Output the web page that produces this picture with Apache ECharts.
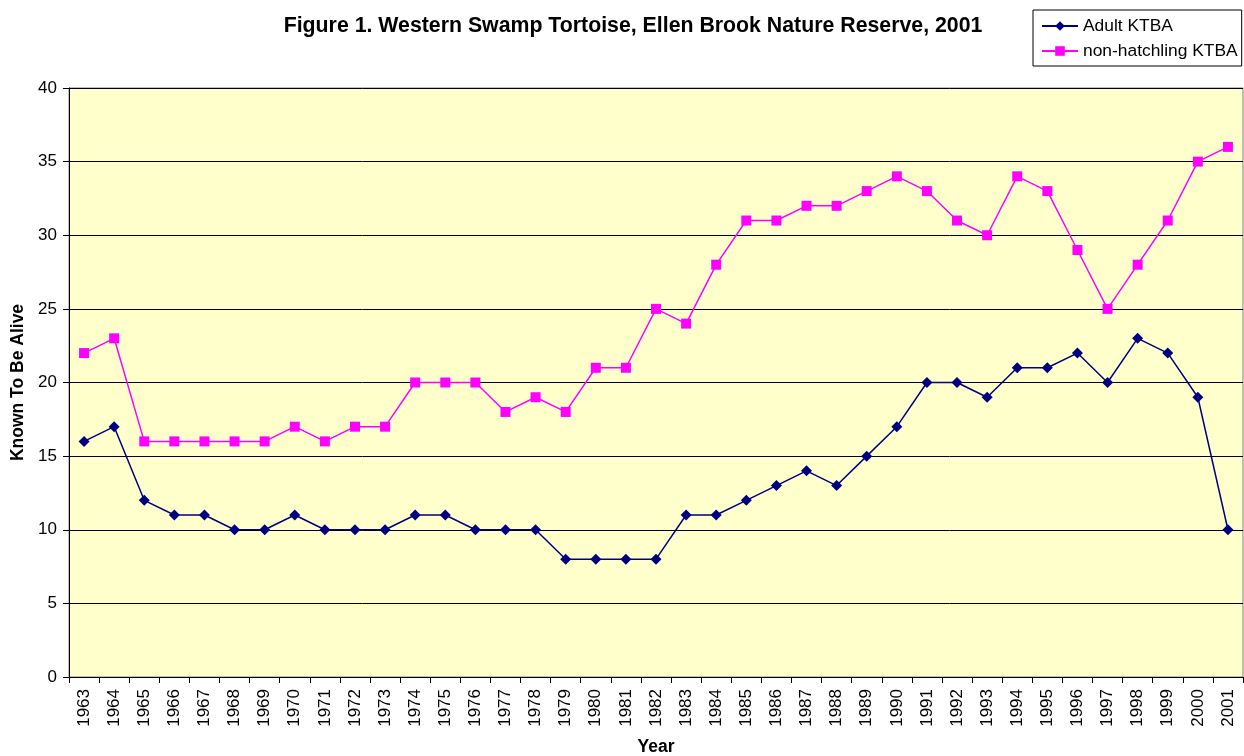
<!DOCTYPE html>
<html>
<head>
<meta charset="utf-8">
<script src="https://cdn.jsdelivr.net/npm/echarts@6/dist/echarts.min.js"></script>
<style>
html,body{margin:0;padding:0;background:#fff;}
#c{width:1244px;height:756px;}
</style>
</head>
<body>
<div id="c"></div>
<script>
const years = ['1963','1964','1965','1966','1967','1968','1969','1970','1971','1972','1973','1974','1975','1976','1977','1978','1979','1980','1981','1982','1983','1984','1985','1986','1987','1988','1989','1990','1991','1992','1993','1994','1995','1996','1997','1998','1999','2000','2001'];
const adultKTBA = [16,17,12,11,11,10,10,11,10,10,10,11,11,10,10,10,8,8,8,8,11,11,12,13,14,13,15,17,20,20,19,21,21,22,20,23,22,19,10];
const nonHatchlingKTBA = [22,23,16,16,16,16,16,17,16,17,17,20,20,20,18,19,18,21,21,25,24,28,31,31,32,32,33,34,33,31,30,34,33,29,25,28,31,35,36];

const FONT = '"Liberation Sans", Arial, sans-serif';
const chart = echarts.init(document.getElementById('c'));
chart.setOption({
  animation: false,
  backgroundColor: '#ffffff',
  title: {
    text: 'Figure 1. Western Swamp Tortoise, Ellen Brook Nature Reserve, 2001',
    left: 628, top: 11, textAlign: 'center',
    textStyle: {fontFamily: FONT, fontSize: 21.3, fontWeight: 'bold', color: '#000'}
  },
  legend: {
    orient: 'vertical',
    left: 1033, top: 10,
    padding: [7, 4, 6, 8],
    itemGap: 7,
    itemWidth: 36, itemHeight: 12,
    borderColor: '#000', borderWidth: 1,
    backgroundColor: '#fff',
    textStyle: {fontFamily: FONT, fontSize: 17.4, lineHeight: 18, color: '#000'},
    data: ['Adult KTBA', 'non-hatchling KTBA']
  },
  grid: {
    left: 69, right: 1, top: 88, bottom: 79,
    outerBoundsMode: 'none',
    show: true, backgroundColor: '#FFFFCC', borderColor: '#808080', borderWidth: 1,
    containLabel: false
  },
  xAxis: {
    type: 'category',
    data: years,
    boundaryGap: true,
    name: 'Year',
    nameLocation: 'middle',
    nameGap: 61,
    nameTextStyle: {fontFamily: FONT, fontSize: 17.5, fontWeight: 'bold', color: '#000'},
    axisLine: {lineStyle: {color: '#000', width: 1}},
    axisTick: {show: true, length: 6, inside: false, lineStyle: {color: '#000'}},
    axisLabel: {rotate: 90, fontFamily: FONT, fontSize: 17, color: '#000', margin: 12, interval: 0},
    splitLine: {show: false}
  },
  yAxis: {
    type: 'value',
    min: 0, max: 40, interval: 5,
    name: 'Known To Be Alive',
    nameLocation: 'middle',
    nameGap: 39,
    nameRotate: 90,
    nameTextStyle: {fontFamily: FONT, fontSize: 17.5, fontWeight: 'bold', color: '#000'},
    axisLine: {show: true, lineStyle: {color: '#000', width: 1}},
    axisTick: {show: true, length: 6, lineStyle: {color: '#000'}},
    axisLabel: {fontFamily: FONT, fontSize: 17, color: '#000', margin: 12},
    splitLine: {show: true, lineStyle: {color: '#000', width: 1}}
  },
  series: [
    {
      name: 'Adult KTBA',
      type: 'line',
      data: adultKTBA,
      symbol: 'diamond',
      symbolSize: 11,
      lineStyle: {color: '#000080', width: 1.5},
      itemStyle: {color: '#000080'}
    },
    {
      name: 'non-hatchling KTBA',
      type: 'line',
      data: nonHatchlingKTBA,
      symbol: 'rect',
      symbolSize: 10,
      lineStyle: {color: '#FF00FF', width: 1.5},
      itemStyle: {color: '#FF00FF'}
    }
  ]
});
</script>
</body>
</html>
